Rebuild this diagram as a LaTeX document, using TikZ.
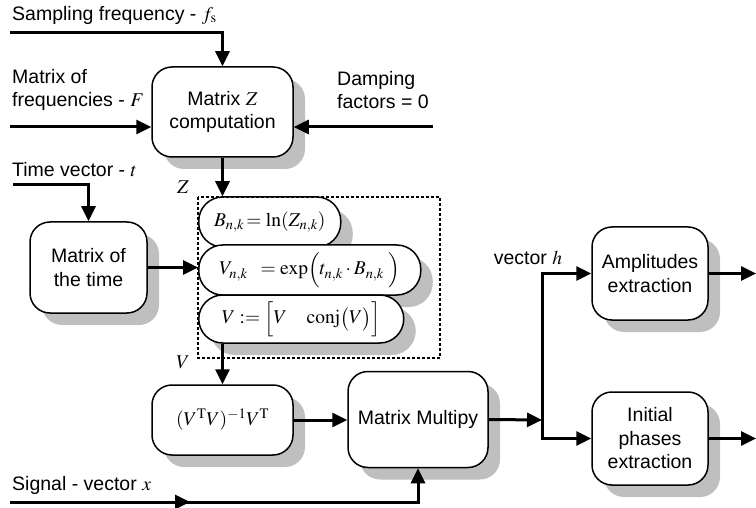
\documentclass[tikz,border=0pt]{standalone}
\usepackage{mathptmx}
\usepackage[no-math]{fontspec}
\setmainfont{Liberation Sans}
\usetikzlibrary{calc,positioning,shadows,arrows.meta}

\tikzset{
  blk/.style={draw,line width=1.5pt,rounded corners=20pt,fill=white,align=center,inner sep=0pt,
    drop shadow={shadow xshift=12pt,shadow yshift=-12pt,fill=black!25,opacity=1}},
  pill/.style={blk,rounded corners=24pt,minimum height=50pt,anchor=west},
  flow/.style={line width=3pt,-{Triangle[length=15pt,width=14pt]}},
  lab/.style={anchor=west,align=left,inner sep=0pt}
}

\begin{document}
\begin{tikzpicture}[x=1pt,y=-1pt,font=\fontsize{19.5}{23.5}\selectfont]
\useasboundingbox (0,0) rectangle (756,508);
% blocks
\node[blk,minimum width=141pt,minimum height=90pt] (mz) at (222.5,112) {Matrix $Z$\\computation};
\node[blk,minimum width=117pt,minimum height=91pt] (mt) at (88.5,267.5) {Matrix of\\the time};
\node[pill,minimum width=142pt] (bn) at (198,222) {$B_{n,k}\!=\ln(Z_{n,k})$};
\node[pill,minimum width=222pt] (vn) at (198,270) {$V_{n,k}\;\;=\exp\Bigl(t_{n,k}\cdot B_{n,k}\;\Bigr)$};
\node[pill,minimum width=205pt,minimum height=48pt] (vc) at (198,319) {$V:=\Bigl[V\quad\mathrm{conj}\bigl(V\bigr)\Bigr]$};
\draw[line width=1.3pt,dash pattern=on 3pt off 2pt] (198,197) rectangle (440,358);
\node[blk,minimum width=141pt,minimum height=70pt] (inv) at (222.5,420) {$(V^{\mathrm{T}}V)^{-1}V^{\mathrm{T}}$};
\node[blk,minimum width=140pt,minimum height=96pt] (mm) at (418,419.5) {Matrix Multipy};
\node[blk,minimum width=116pt,minimum height=93pt] (amp) at (650,273.5) {Amplitudes\\extraction};
\node[blk,minimum width=116pt,minimum height=93pt] (ph) at (650,438.5) {Initial\\phases\\extraction};
% labels
\node[lab] (lfs) at (12,15) {Sampling frequency - $f_{\mathrm{s}}$};
\node[lab] (lF) at (12,90) {Matrix of\\frequencies - $F$};
\node[lab] (ld) at (337,90) {Damping\\factors = 0};
\node[lab] (lt) at (12,170) {Time vector - $t$};
\node[lab] (lx) at (12,485) {Signal - vector $x$};
\node (lh) at (528,258) {vector $h$};
\node (lz) at (183,187) {$Z$};
\node (lv) at (183,362) {$V$};
% free ends
\coordinate (fs) at (10,33);
\coordinate (fF) at (10,127);
\coordinate (dp) at (433,127);
\coordinate (tv) at (13,185);
\coordinate (sx) at (10,502);
\coordinate (br) at (542,420);
\coordinate (ao) at (756,273.5);
\coordinate (po) at (756,438.5);
% connections
\draw[flow] (fs) -| (mz.north);
\draw[flow] (fF) -- (fF -| mz.west);
\draw[flow] (dp) -- (dp -| mz.east);
\draw[flow] (mz.south) -- (mz.south |- bn.north);
\draw[flow] (tv) -| (mt.north);
\draw[flow] (mt.east) -- (mt.east -| vn.west);
\draw[flow] (vc.south -| inv.north) -- (inv.north);
\draw[flow] (inv.east) -- (inv.east -| mm.west);
\draw[flow] (sx) -- ++(180,0);
\draw[flow] (sx) -| (mm.south);
\draw[flow] (mm.east) -- (br);
\draw[flow] (br) |- (amp.west);
\draw[flow] (br) |- (ph.west);
\draw[flow] (amp.east) -- (ao);
\draw[flow] (ph.east) -- (po);
\end{tikzpicture}
\end{document}
